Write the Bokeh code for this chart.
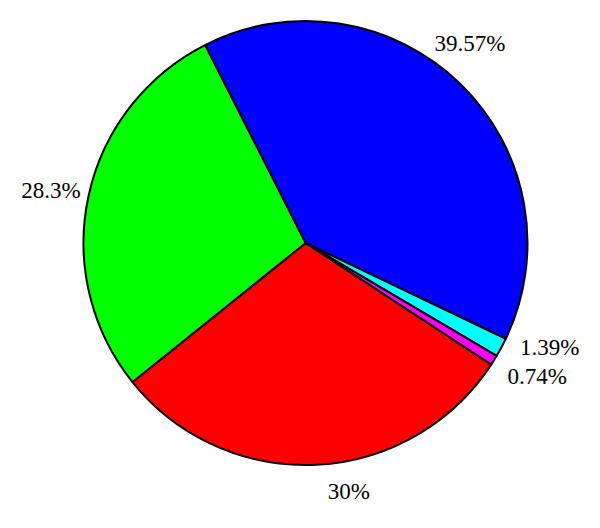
import math
from bokeh.plotting import figure
from bokeh.models import ColumnDataSource, Range1d
from bokeh.core.properties import value
from bokeh.embed import file_html
from bokeh.resources import INLINE

# Data
labels = ["39.57%", "1.39%", "0.74%", "30%", "28.3%"]
shares = [39.57, 1.39, 0.74, 30.0, 28.3]
colors = ["#0000FF", "#00FFFF", "#FF00FF", "#FF0000", "#00FF00"]

# Layout (pixel nudges for label placement)
label_dx = [-14, 19, 15, 31, -5]
label_dy = [-17, -16, -1, -6, 1]

start_deg = 116.9
total = sum(shares)
ends, starts, mids = [], [], []
a = math.radians(start_deg)
for s in shares:
    span = s / total * 2 * math.pi
    starts.append(a - span)
    ends.append(a)
    mids.append(a - span / 2)
    a -= span

lr = 1.15
lx = [lr * math.cos(m) for m in mids]
ly = [lr * math.sin(m) for m in mids]

src = ColumnDataSource(dict(start=starts, end=ends, color=colors))
lsrc = ColumnDataSource(dict(x=lx, y=ly, text=labels, dx=label_dx, dy=label_dy))

R = 222.0
cx, cy = 305.0, 242.5
W, H = 584, 512
p = figure(width=W, height=H, output_backend="svg", toolbar_location=None,
           x_range=Range1d(-cx / R, (W - cx) / R),
           y_range=Range1d(-(H - cy) / R, cy / R),
           min_border=0)
p.axis.visible = False
p.grid.visible = False
p.outline_line_color = None
p.background_fill_color = "white"
p.border_fill_color = "white"

p.wedge(x=0, y=0, radius=1.0, start_angle="start", end_angle="end",
        fill_color="color", line_color="black", line_width=2, source=src)

p.text(x="x", y="y", text="text", x_offset="dx", y_offset="dy", source=lsrc,
       text_font=value("Liberation Serif"), text_font_size="23px",
       text_align="center", text_baseline="middle", text_color="black")

open("out.html", "w").write(file_html(p, INLINE))
